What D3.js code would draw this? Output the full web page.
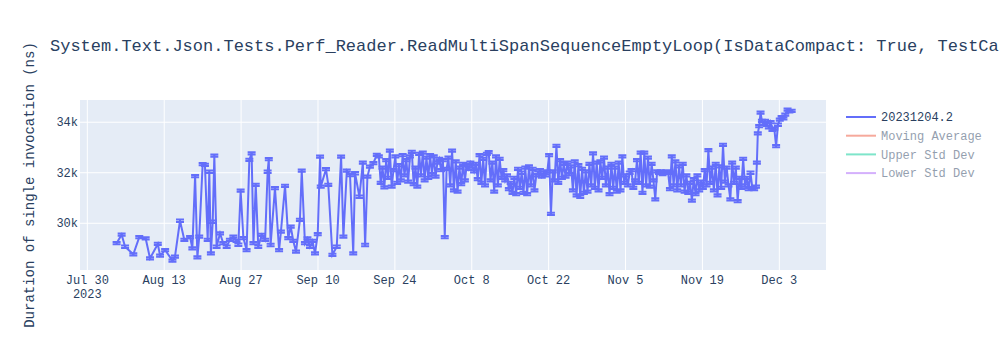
<!DOCTYPE html>
<html>
<head>
<meta charset="utf-8">
<script src="https://cdn.jsdelivr.net/npm/d3@7"></script>
<style>
  body { margin: 0; background: #fff; }
  text { font-family: "Liberation Mono", "Courier New", monospace; }
</style>
</head>
<body>
<div id="chart"></div>
<script>
// Benchmark run results
var runDates = [
  "2023-08-04 08","2023-08-05 06","2023-08-05 21","2023-08-07 09","2023-08-08 11","2023-08-09 15",
  "2023-08-10 10","2023-08-11 20","2023-08-12 06","2023-08-13 04","2023-08-14 12","2023-08-14 23",
  "2023-08-15 21","2023-08-16 16","2023-08-17 17","2023-08-18 03","2023-08-18 15","2023-08-19 01",
  "2023-08-19 09","2023-08-20 00","2023-08-20 10","2023-08-20 22","2023-08-21 05","2023-08-21 12",
  "2023-08-21 20","2023-08-22 03","2023-08-22 13","2023-08-23 04","2023-08-23 18","2023-08-24 09",
  "2023-08-24 23","2023-08-25 14","2023-08-26 04","2023-08-26 12","2023-08-26 22","2023-08-27 10",
  "2023-08-28 00","2023-08-28 12","2023-08-28 22","2023-08-29 06","2023-08-29 16","2023-08-30 03",
  "2023-08-30 18","2023-08-31 09","2023-08-31 20","2023-09-01 01","2023-09-01 09","2023-09-02 04",
  "2023-09-02 22","2023-09-03 06","2023-09-04 00","2023-09-04 14","2023-09-05 01","2023-09-05 12",
  "2023-09-06 00","2023-09-06 17","2023-09-07 01","2023-09-07 15","2023-09-08 02","2023-09-08 13",
  "2023-09-09 00","2023-09-09 11","2023-09-09 23","2023-09-10 09","2023-09-10 12","2023-09-11 11",
  "2023-09-11 21","2023-09-12 15","2023-09-13 10","2023-09-14 05","2023-09-14 15","2023-09-15 06",
  "2023-09-15 20","2023-09-16 10","2023-09-16 18","2023-09-17 13","2023-09-18 04","2023-09-18 14",
  "2023-09-19 00","2023-09-19 11","2023-09-20 02","2023-09-20 17",
  "2023-09-21 02","2023-09-21 10","2023-09-21 18","2023-09-22 02","2023-09-22 10","2023-09-22 18",
  "2023-09-23 02","2023-09-23 10","2023-09-23 18","2023-09-24 02","2023-09-24 10","2023-09-24 18",
  "2023-09-25 02","2023-09-25 10","2023-09-25 18","2023-09-26 02","2023-09-26 10","2023-09-26 18",
  "2023-09-27 02","2023-09-27 10","2023-09-27 18","2023-09-28 02","2023-09-28 10","2023-09-28 18",
  "2023-09-29 02","2023-09-29 10","2023-09-29 18","2023-09-30 02","2023-09-30 10","2023-09-30 18",
  "2023-10-01 02","2023-10-01 10","2023-10-01 18","2023-10-02 02","2023-10-02 10","2023-10-02 18",
  "2023-10-03 02","2023-10-03 10","2023-10-03 18","2023-10-04 02","2023-10-04 10","2023-10-04 18",
  "2023-10-05 02","2023-10-05 10","2023-10-05 18","2023-10-06 02","2023-10-06 10","2023-10-06 18",
  "2023-10-07 02","2023-10-07 10","2023-10-07 18","2023-10-08 02","2023-10-08 10","2023-10-08 18",
  "2023-10-09 02","2023-10-09 10","2023-10-09 18","2023-10-10 02","2023-10-10 10","2023-10-10 18",
  "2023-10-11 02","2023-10-11 10","2023-10-11 18","2023-10-12 02","2023-10-12 10","2023-10-12 18",
  "2023-10-13 02","2023-10-13 10","2023-10-13 18","2023-10-14 02","2023-10-14 10","2023-10-14 18",
  "2023-10-15 02","2023-10-15 10","2023-10-15 18","2023-10-16 02","2023-10-16 10","2023-10-16 18",
  "2023-10-17 02","2023-10-17 10","2023-10-17 18","2023-10-18 02","2023-10-18 10","2023-10-18 18",
  "2023-10-19 02","2023-10-19 10","2023-10-19 18","2023-10-20 02","2023-10-20 10","2023-10-20 18",
  "2023-10-21 02","2023-10-21 10","2023-10-21 18","2023-10-22 02","2023-10-22 10","2023-10-22 18",
  "2023-10-23 02","2023-10-23 10","2023-10-23 18","2023-10-24 02","2023-10-24 10","2023-10-24 18",
  "2023-10-25 02","2023-10-25 10","2023-10-25 18","2023-10-26 02","2023-10-26 10","2023-10-26 18",
  "2023-10-27 02","2023-10-27 10","2023-10-27 18","2023-10-28 02","2023-10-28 10","2023-10-28 18",
  "2023-10-29 02","2023-10-29 10","2023-10-29 18","2023-10-30 02","2023-10-30 10","2023-10-30 18",
  "2023-10-31 02","2023-10-31 10","2023-10-31 18","2023-11-01 02","2023-11-01 10","2023-11-01 18",
  "2023-11-02 02","2023-11-02 10","2023-11-02 18","2023-11-03 02","2023-11-03 10","2023-11-03 18",
  "2023-11-04 02","2023-11-04 10","2023-11-04 18","2023-11-05 02","2023-11-05 10","2023-11-05 18",
  "2023-11-06 02","2023-11-06 10","2023-11-06 18","2023-11-07 02","2023-11-07 10","2023-11-07 18",
  "2023-11-08 02","2023-11-08 10","2023-11-08 18","2023-11-09 02","2023-11-09 10","2023-11-09 18",
  "2023-11-10 02","2023-11-10 10","2023-11-10 18","2023-11-11 02","2023-11-11 10","2023-11-11 18",
  "2023-11-12 02","2023-11-12 10","2023-11-12 18","2023-11-13 02","2023-11-13 10","2023-11-13 18",
  "2023-11-14 02","2023-11-14 10","2023-11-14 18","2023-11-15 02","2023-11-15 10","2023-11-15 18",
  "2023-11-16 02","2023-11-16 10","2023-11-16 18","2023-11-17 02","2023-11-17 10","2023-11-17 18",
  "2023-11-18 02","2023-11-18 10","2023-11-18 18","2023-11-19 02","2023-11-19 10","2023-11-19 18",
  "2023-11-20 02","2023-11-20 10","2023-11-20 18","2023-11-21 02","2023-11-21 10","2023-11-21 18",
  "2023-11-22 02","2023-11-22 10","2023-11-22 18","2023-11-23 02","2023-11-23 10","2023-11-23 18",
  "2023-11-24 02","2023-11-24 10","2023-11-24 18","2023-11-25 02","2023-11-25 10","2023-11-25 18",
  "2023-11-26 02","2023-11-26 10","2023-11-26 18","2023-11-27 02","2023-11-27 10","2023-11-27 18",
  "2023-11-28 02","2023-11-28 10","2023-11-28 18","2023-11-28 22","2023-11-29 02","2023-11-29 08",
  "2023-11-29 14","2023-11-29 20","2023-11-30 02","2023-11-30 10","2023-11-30 18","2023-12-01 02",
  "2023-12-01 10","2023-12-01 18","2023-12-02 02","2023-12-02 10","2023-12-02 18","2023-12-03 02",
  "2023-12-03 10","2023-12-03 18","2023-12-04 02","2023-12-04 12","2023-12-04 20","2023-12-05 06"
];

var durations = [
  29210,29550,29070,28770,29450,29400,
  28610,29180,28720,28940,28520,28680,
  30100,29340,29450,29010,31870,28650,
  29470,32340,32310,29340,32040,28810,
  30060,32680,29070,29600,29210,29070,
  29340,29470,29300,29150,31290,29410,
  28940,32510,32770,29210,31520,29070,
  29540,29340,32040,32540,29140,31390,
  28940,29670,31480,29410,29870,29300,
  28880,30130,32080,29210,29400,29070,
  29300,28810,29570,32640,31450,32140,
  31520,28750,29070,32640,29470,32080,
  31910,28810,31980,31050,32400,29140,
  31850,32240,32380,32710,
  32650,31600,32200, 31420,32500,31800,
  32880,31450,32100, 32650,31600,32300,
  31700,32700,31900, 32500,31650,32650,
  32830,31550,32200, 31450,32750,31900,
  32800,31700,32600, 31800,32700,31950,
  32650,31850,32400, 32550,32100,32500,
  29450,32150,32600, 31500,32880,31300,
  32450,31250,32200, 31550,32350,31700,
  32300,32150,32400, 32250,32050,32350,
  31750,32700,31600, 32550,31500,32750,
  32820,31700,32400, 31250,32650,31500,
  32550,31800,32100, 31700,31900,31350,
  31600,31200,31800, 31150,32150,31400,
  32000,31200,32200, 31150,32250,31500,
  32150,31300,31900, 32000,32100,31850,
  32000,31900,32050, 32700,30370,32050,
  31700,33060,31600, 32500,31800,32350,
  31850,32400,31950, 32250,31300,32450,
  31100,32300,31050, 32150,31200,32050,
  31250,32350,31500, 32770,31400,32400,
  31300,32450,31800, 32600,31500,32200,
  31150,32350,31400, 32200,31250,32400,
  31300,32650,31600, 31900,31500,32000,
  32100,31400,31700, 32500,31600,32800,
  31200,32800,31500, 32600,31450,32350,
  31700,30950,32050, 32000,32050,31950,
  32000,32050,32000, 31350,32650,31500,
  32450,31300,32250, 31500,32350,31250,
  31900,31200,31600, 30900,31750,31150,
  31900,31300,31650, 31400,32100,31500,
  32900,31600,32200, 31300,32350,31100,
  32250,31400,33100, 31650,32200,31500,
  30950,32400,31600, 32200,30880,31800,
  31400,32550,31500, 31800,31350,32000,
  31400,31350,31450,32400,33560,33850,
  34380,34050,33950,34050,33900,33800,
  34000,33700,33750,33050,33900,34100,
  34200,34150,34300,34500,34430,34450
];

// std dev of each run is tiny, bars look like a thick dash
var stdDevNs = 45;

var xRange = ["2023-07-28 16", "2023-12-11 12"];
var yRange = [28150, 34880];
var yTicks = [30000, 32000, 34000];

var legendNames = ["20231204.2", "Moving Average", "Upper Std Dev", "Lower Std Dev"];
var legendColors = ["#636efa", "#EF553B", "#00cc96", "#ab63fa"];
var legendVisible = [true, false, false, false];

var titleText = "System.Text.Json.Tests.Perf_Reader.ReadMultiSpanSequenceEmptyLoop(IsDataCompact: True, TestCase: Json4KB)";
var yTitle = "Duration of single invocation (ns)";

var width = 1000, height = 350;
var margin = {top: 100, right: 174, bottom: 80, left: 80};
var plotW = width - margin.left - margin.right,
    plotH = height - margin.top - margin.bottom;

var parseDate = d3.utcParse("%Y-%m-%d %H");
var data = runDates.map(function(d, i) {
  return {date: parseDate(d), value: durations[i], err: stdDevNs};
});

var x = d3.scaleUtc()
  .domain(xRange.map(parseDate))
  .range([0, plotW]);
var y = d3.scaleLinear()
  .domain(yRange)
  .range([plotH, 0]);

var svg = d3.select("#chart").append("svg")
  .attr("width", width)
  .attr("height", height);

svg.append("text")
  .attr("x", 50)
  .attr("y", 51)
  .style("font-size", "17px")
  .style("fill", "#2a3f5f")
  .text(titleText);

var g = svg.append("g")
  .attr("transform", "translate(" + margin.left + "," + margin.top + ")");

g.append("rect")
  .attr("width", plotW)
  .attr("height", plotH)
  .attr("fill", "#e5ecf6");

// x ticks every two weeks from Jul 30
var xTicks = d3.utcDay.range(parseDate("2023-07-30 00"), x.domain()[1], 14);
var fmtDay = d3.utcFormat("%b %-d");

g.selectAll(".xgrid").data(xTicks).enter()
  .append("line")
  .attr("x1", function(d) { return x(d); })
  .attr("x2", function(d) { return x(d); })
  .attr("y1", 0).attr("y2", plotH)
  .attr("stroke", "#fff").attr("stroke-width", 1);

g.selectAll(".ygrid").data(yTicks).enter()
  .append("line")
  .attr("x1", 0).attr("x2", plotW)
  .attr("y1", function(d) { return y(d); })
  .attr("y2", function(d) { return y(d); })
  .attr("stroke", "#fff").attr("stroke-width", 1);

var xLabels = g.selectAll(".xlab").data(xTicks).enter()
  .append("text")
  .attr("x", function(d) { return x(d); })
  .attr("y", plotH + 14)
  .attr("text-anchor", "middle")
  .style("font-size", "12px")
  .style("fill", "#2a3f5f")
  .text(function(d) { return fmtDay(d); });

g.append("text")
  .attr("x", x(xTicks[0]))
  .attr("y", plotH + 28)
  .attr("text-anchor", "middle")
  .style("font-size", "12px")
  .style("fill", "#2a3f5f")
  .text(d3.utcFormat("%Y")(xTicks[0]));

g.selectAll(".ylab").data(yTicks).enter()
  .append("text")
  .attr("x", -2)
  .attr("y", function(d) { return y(d); })
  .attr("dy", "0.35em")
  .attr("text-anchor", "end")
  .style("font-size", "12px")
  .style("fill", "#2a3f5f")
  .text(function(d) { return d3.format("~s")(d); });

svg.append("text")
  .attr("transform", "translate(34," + (margin.top + plotH / 2) + ") rotate(-90)")
  .attr("text-anchor", "middle")
  .style("font-size", "14px")
  .style("fill", "#2a3f5f")
  .text(yTitle);

svg.append("clipPath").attr("id", "clip")
  .append("rect").attr("width", plotW).attr("height", plotH);

var plot = g.append("g").attr("clip-path", "url(#clip)");

var line = d3.line()
  .x(function(d) { return x(d.date); })
  .y(function(d) { return y(d.value); });

plot.append("path")
  .datum(data)
  .attr("d", line)
  .attr("fill", "none")
  .attr("stroke", legendColors[0])
  .attr("stroke-width", 2);

// error bars with caps
var bars = plot.selectAll(".err").data(data).enter()
  .append("path")
  .attr("fill", "none")
  .attr("stroke", legendColors[0])
  .attr("stroke-width", 2)
  .attr("d", function(d) {
    var cx = x(d.date), top = y(d.value + d.err), bot = y(d.value - d.err);
    return "M" + cx + "," + top + "V" + bot +
      "M" + (cx - 4) + "," + top + "H" + (cx + 4) +
      "M" + (cx - 4) + "," + bot + "H" + (cx + 4);
  });

// legend
var legend = svg.append("g").attr("transform", "translate(846,117)");
legendNames.forEach(function(name, i) {
  var row = legend.append("g")
    .attr("transform", "translate(0," + (i * 18.7) + ")")
    .style("opacity", legendVisible[i] ? 1 : 0.5);
  row.append("line")
    .attr("x1", 0).attr("x2", 30)
    .attr("stroke", legendColors[i])
    .attr("stroke-width", 2);
  row.append("text")
    .attr("x", 35)
    .attr("dy", "0.35em")
    .style("font-size", "12px")
    .style("fill", "#2a3f5f")
    .text(name);
});
</script>
</body>
</html>
